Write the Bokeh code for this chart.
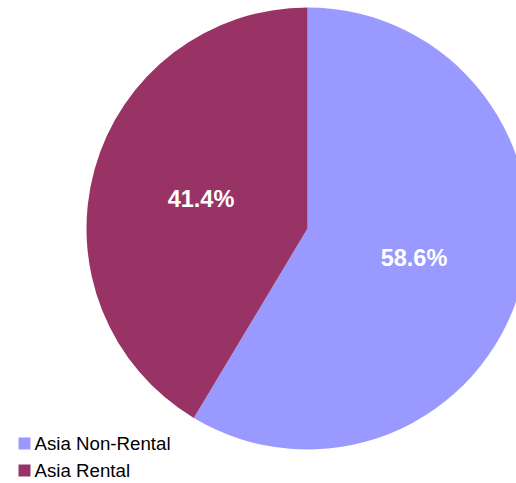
import math
from bokeh.plotting import figure
from bokeh.models import Range1d, ColumnDataSource
from bokeh.core.properties import value
from bokeh.embed import file_html
from bokeh.resources import INLINE

categories = ["Asia Non-Rental", "Asia Rental"]
shares = [58.6, 41.4]
colors = ["#9999FF", "#993366"]

W, H = 516, 483
cx, cy = 307, 228  # pie centre in page pixels
R = 221

p = figure(width=W, height=H, output_backend="svg", toolbar_location=None,
           x_range=Range1d(0 - cx, W - cx), y_range=Range1d(cy - H, cy),
           min_border=0)
p.axis.visible = False
p.grid.visible = False
p.outline_line_color = None
p.background_fill_color = "white"

total = sum(shares)
starts, ends, lx, ly, labels = [], [], [], [], []
a = math.pi / 2
for s in shares:
    sweep = 2 * math.pi * s / total
    starts.append(a)
    ends.append(a - sweep)
    mid = a - sweep / 2
    lx.append(0.5 * R * math.cos(mid))
    ly.append(0.5 * R * math.sin(mid))
    labels.append(f"{100 * s / total:.1f}%")
    a -= sweep

src = ColumnDataSource(dict(start=starts, end=ends, color=colors, lx=lx, ly=ly, label=labels))
p.wedge(x=0, y=0, radius=R, start_angle="start", end_angle="end", direction="clock",
        fill_color="color", line_color=None, source=src)
p.text(x="lx", y="ly", text="label", source=src, text_color="white",
       text_font=value("Liberation Sans"), text_font_style="bold", text_font_size="23.5px",
       text_align="center", text_baseline="middle")

# legend
leg_y = [cy - 443, cy - 470]
leg = ColumnDataSource(dict(x=[24 - cx] * 2, tx=[34 - cx] * 2, y=leg_y, color=colors, label=categories))
p.rect(x="x", y="y", width=12, height=12, fill_color="color", line_color=None, source=leg)
p.text(x="tx", y="y", text="label", source=leg, text_color="black",
       text_font=value("Liberation Sans"), text_font_size="18.7px",
       text_align="left", text_baseline="middle")

open("out.html", "w").write(file_html(p, INLINE))
